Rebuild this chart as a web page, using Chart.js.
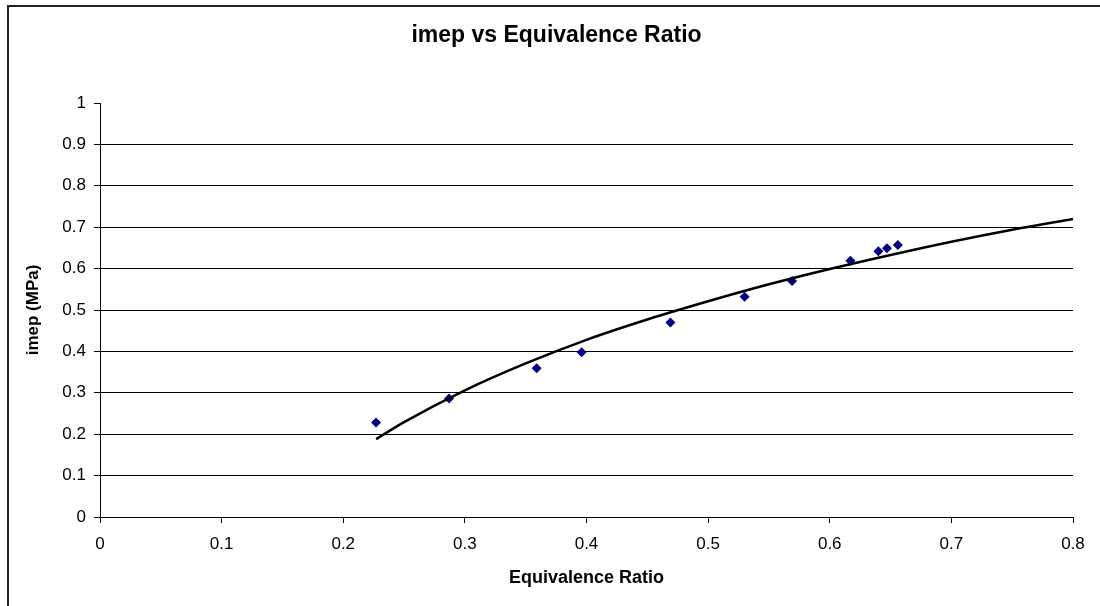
<!DOCTYPE html>
<html>
<head>
<meta charset="utf-8">
<script src="https://cdn.jsdelivr.net/npm/chart.js@4/dist/chart.umd.min.js"></script>
<style>
  html, body { margin: 0; padding: 0; background: #fff; }
  canvas { display: block; }
</style>
</head>
<body>
<canvas id="chart" width="1100" height="606"></canvas>
<script>
// measured points
const phi = [0.227, 0.287, 0.359, 0.396, 0.469, 0.530, 0.569, 0.617, 0.640, 0.647, 0.656];
const imep = [0.228, 0.286, 0.359, 0.398, 0.470, 0.532, 0.570, 0.619, 0.642, 0.649, 0.657];

// trend line
const trendX = [0.227, 0.25, 0.3, 0.35, 0.4, 0.45, 0.5, 0.55, 0.6, 0.65, 0.7, 0.75, 0.8];
const trendY = [0.188, 0.229, 0.306, 0.371, 0.428, 0.477, 0.521, 0.562, 0.599, 0.633, 0.665, 0.694, 0.72];

const fontFamily = "'Liberation Sans', Arial, sans-serif";

// white page + outer frame
const framePlugin = {
  id: "frame",
  beforeDraw: (chart) => {
    const ctx = chart.ctx;
    ctx.save();
    ctx.fillStyle = "#fff";
    ctx.fillRect(0, 0, chart.width, chart.height);
    ctx.strokeStyle = "#222";
    ctx.lineWidth = 2;
    ctx.strokeRect(8, 6, 1200, 700);
    ctx.restore();
  },
};

const ctx = document.getElementById("chart").getContext("2d");
new Chart(ctx, {
  type: "scatter",
  data: {
    datasets: [
      {
        label: "imep",
        data: phi.map((x, i) => ({ x: x, y: imep[i] })),
        pointStyle: "rectRot",
        pointRadius: 5,
        pointBackgroundColor: "#000080",
        pointBorderColor: "#000080",
        pointBorderWidth: 0,
        order: 2,
      },
      {
        label: "trend",
        data: trendX.map((x, i) => ({ x: x, y: trendY[i] })),
        showLine: true,
        borderColor: "#000",
        borderWidth: 2.5,
        pointRadius: 0,
        cubicInterpolationMode: "monotone",
        order: 1,
      },
    ],
  },
  options: {
    responsive: false,
    animation: false,
    events: [],
    // left padding keeps the title centred where the original has it
    layout: { padding: { left: 40, right: 27, top: 10, bottom: 0 } },
    plugins: {
      legend: { display: false },
      tooltip: { enabled: false },
      title: {
        display: true,
        text: "imep vs Equivalence Ratio",
        color: "#000",
        font: { family: fontFamily, size: 23, weight: "bold" },
        padding: { top: 12, bottom: 53.4 },
      },
    },
    scales: {
      x: {
        type: "linear",
        min: 0,
        max: 0.8,
        afterFit: (scale) => { scale.height = 89; },
        ticks: {
          stepSize: 0.1,
          color: "#000",
          padding: 11,
          maxRotation: 0,
          font: { family: fontFamily, size: 17 },
        },
        grid: {
          drawOnChartArea: false,
          drawTicks: true,
          tickLength: 6,
          tickColor: "#000",
        },
        border: { display: true, color: "#000", width: 1 },
        title: {
          display: true,
          text: "Equivalence Ratio",
          color: "#000",
          font: { family: fontFamily, size: 18, weight: "bold" },
          padding: { top: 0, bottom: 17 },
        },
      },
      y: {
        type: "linear",
        min: 0,
        max: 1,
        afterFit: (scale) => { scale.width = 60; },
        ticks: {
          stepSize: 0.1,
          color: "#000",
          padding: 8,
          font: { family: fontFamily, size: 17 },
          callback: (v) => String(Number(v.toFixed(1))),
        },
        grid: {
          color: (c) => (c.tick && c.tick.value === 1 ? "rgba(0,0,0,0)" : "#000"),
          tickColor: "#000",
          drawTicks: true,
          tickLength: 6,
          lineWidth: 1,
        },
        border: { display: true, color: "#000", width: 1 },
        title: {
          display: true,
          text: "imep (MPa)",
          color: "#000",
          font: { family: fontFamily, size: 17, weight: "bold" },
          padding: { top: -17, bottom: 0 },
        },
      },
    },
  },
  plugins: [framePlugin],
});
</script>
</body>
</html>
